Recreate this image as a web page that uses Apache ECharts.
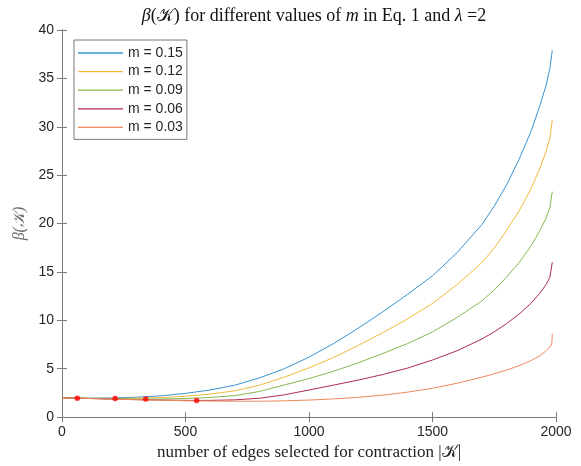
<!DOCTYPE html>
<html><head><meta charset="utf-8">
<script src="https://cdn.jsdelivr.net/npm/echarts@6/dist/echarts.min.js"></script>
<style>html,body{margin:0;padding:0;background:#fff}#c{width:581px;height:466px}</style>
</head><body><div id="c"></div>
<script>
const seriesNames = ['m = 0.15','m = 0.12','m = 0.09','m = 0.06','m = 0.03'];
const xTicks = [0,500,1000,1500,2000];
const yTicks = [0,5,10,15,20,25,30,35,40];
const curveM015 = [[0,2.0],[62,1.96],[100,1.96],[200,1.98],[300,2.05],[400,2.2],[500,2.45],[600,2.8],[700,3.3],[800,4.05],[900,5.0],[1000,6.2],[1100,7.6],[1200,9.2],[1300,10.9],[1400,12.7],[1500,14.6],[1600,17.0],[1700,19.9],[1750,21.8],[1800,24.0],[1850,26.6],[1900,29.6],[1935,32.2],[1960,34.3],[1975,36.0],[1985,37.9]];
const curveM012 = [[0,2.0],[100,1.95],[215,1.93],[300,1.95],[400,2.02],[500,2.15],[600,2.38],[700,2.72],[800,3.3],[900,4.13],[1000,5.09],[1100,6.17],[1200,7.41],[1300,8.74],[1400,10.16],[1500,11.75],[1600,13.7],[1700,15.96],[1750,17.47],[1800,19.29],[1850,21.28],[1900,23.66],[1935,25.74],[1960,27.44],[1975,28.81],[1985,30.7]];
const curveM009 = [[0,2.0],[100,1.94],[200,1.89],[339,1.86],[400,1.87],[500,1.92],[600,2.03],[700,2.22],[800,2.65],[900,3.32],[1000,3.98],[1100,4.74],[1200,5.62],[1300,6.58],[1400,7.61],[1500,8.8],[1600,10.3],[1700,12.01],[1750,13.14],[1800,14.48],[1850,15.95],[1900,17.73],[1935,19.28],[1960,20.58],[1975,21.63],[1985,23.3]];
const curveM006 = [[0,2.0],[100,1.93],[200,1.86],[300,1.8],[400,1.76],[545,1.72],[600,1.73],[700,1.78],[800,1.95],[900,2.3],[1000,2.8],[1100,3.31],[1200,3.83],[1300,4.41],[1400,5.07],[1500,5.9],[1600,6.86],[1700,8.07],[1750,8.81],[1800,9.66],[1850,10.63],[1900,11.79],[1935,12.81],[1960,13.71],[1975,14.44],[1985,16.0]];
const curveM003 = [[0,2.0],[100,1.93],[200,1.86],[300,1.8],[400,1.74],[500,1.69],[600,1.66],[700,1.64],[800,1.64],[900,1.68],[1000,1.76],[1100,1.88],[1200,2.04],[1300,2.27],[1400,2.58],[1500,2.98],[1600,3.5],[1700,4.12],[1750,4.48],[1800,4.85],[1850,5.3],[1900,5.85],[1935,6.35],[1960,6.85],[1975,7.25],[1983,7.55],[1985,8.6]];
const minimaDots = [[62,1.96],[215,1.93],[339,1.86],[545,1.72]];

const curves = [curveM015, curveM012, curveM009, curveM006, curveM003];
const colors = ['#3a92d0','#f0b93a','#84b84f','#b02a4c','#ee8a5e'];

const chart = echarts.init(document.getElementById('c'), null, {renderer:'canvas'});
const axisCol = '#7a7a7a';
const lblCol = '#262626';
const series = curves.map((d,i)=>({
  name: seriesNames[i], type:'line', data:d, symbol:'none', smooth:false,
  lineStyle:{color:colors[i], width:1}, itemStyle:{color:colors[i]}, z:2, animation:false
}));
series.push({type:'scatter', data:minimaDots, symbolSize:5.5, itemStyle:{color:'#ff0000'}, z:5, animation:false});

chart.setOption({
  animation:false,
  title:{
    text:'{i|β}(𝒦) for different values of {i|m} in Eq. 1 and {i|λ} =2',
    left:309, top:2, textAlign:'center',
    textStyle:{fontFamily:'Liberation Serif', fontSize:18, fontWeight:'normal', color:'#111',
      rich:{i:{fontFamily:'Liberation Serif', fontStyle:'italic', fontSize:18, color:'#111'}}}
  },
  grid:{left:62, right:25, top:30, bottom:48},
  legend:{
    data:seriesNames, orient:'vertical', left:74, top:40,
    icon:'rect', itemWidth:45, itemHeight:1.3, itemGap:4.6, padding:[6,4,5,4],
    backgroundColor:'#fff', borderColor:'#555', borderWidth:0.8,
    textStyle:{fontFamily:'Liberation Sans', fontSize:14, color:lblCol, lineHeight:14}
  },
  xAxis:[{
    type:'value', min:0, max:2000, interval:500,
    name:'number of edges selected for contraction |𝒦|', nameLocation:'middle', nameGap:19,
    nameTextStyle:{fontFamily:'Liberation Serif', fontSize:17, color:'#222', verticalAlign:'top'},
    axisLine:{lineStyle:{color:axisCol, width:1}},
    axisTick:{inside:true, length:5, lineStyle:{color:axisCol}},
    axisLabel:{margin:8, fontFamily:'Liberation Sans', fontSize:14, color:lblCol, formatter:v=>String(v)},
    splitLine:{show:false}
  },{
    type:'value', min:0, max:2000, interval:500, position:'top',
    axisLine:{show:true, lineStyle:{color:axisCol, width:1}},
    axisTick:{inside:true, length:5, lineStyle:{color:axisCol}},
    axisLabel:{show:false}, splitLine:{show:false}
  }],
  yAxis:[{
    type:'value', min:0, max:40, interval:5,
    name:'β(𝒦)', nameLocation:'middle', nameGap:30, nameRotate:90,
    nameTextStyle:{fontFamily:'Liberation Serif', fontStyle:'italic', fontSize:16, color:'#666'},
    axisLine:{show:true, lineStyle:{color:axisCol, width:1}},
    axisTick:{show:true, inside:true, length:5, lineStyle:{color:axisCol}},
    axisLabel:{margin:8, fontFamily:'Liberation Sans', fontSize:14, color:lblCol, formatter:v=>String(v)},
    splitLine:{show:false}
  },{
    type:'value', min:0, max:40, interval:5, position:'right',
    axisLine:{show:true, lineStyle:{color:axisCol, width:1}},
    axisTick:{show:true, inside:true, length:5, lineStyle:{color:axisCol}},
    axisLabel:{show:false}, splitLine:{show:false}
  }],
  series: series
});
</script></body></html>
